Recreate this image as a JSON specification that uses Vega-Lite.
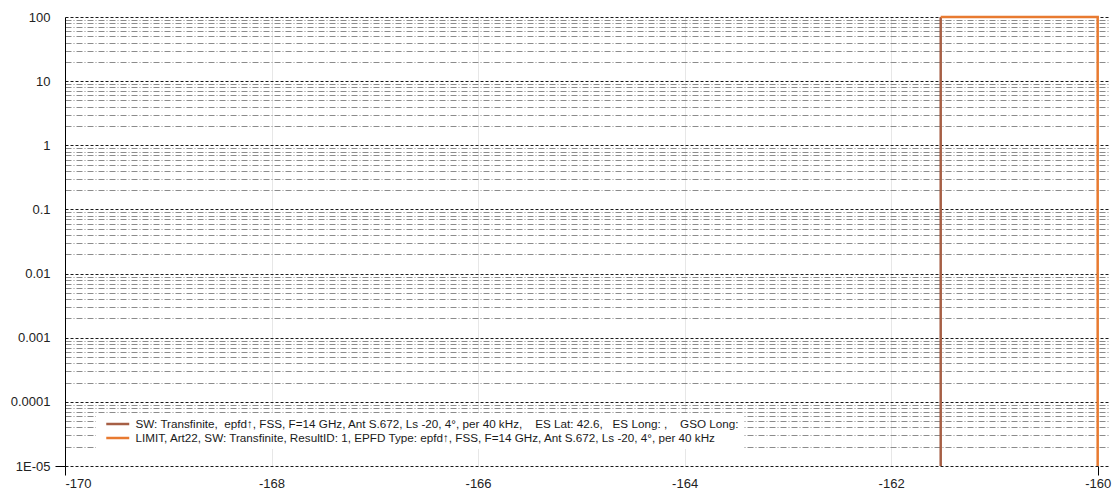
{
  "$schema": "https://vega.github.io/schema/vega-lite/v6.json",
  "autosize": "none",
  "width": 1043,
  "height": 449,
  "padding": {"left": 65, "top": 17, "right": 8, "bottom": 25},
  "background": "white",
  "config": {"view": {"stroke": null}},
  "data": {"values": [
    {"series": "SW", "epfd": -161.52, "pct": 0.00001, "ord": 0},
    {"series": "SW", "epfd": -161.52, "pct": 100, "ord": 1},
    {"series": "LIMIT", "epfd": -161.52, "pct": 100, "ord": 0},
    {"series": "LIMIT", "epfd": -160, "pct": 100, "ord": 1},
    {"series": "LIMIT", "epfd": -160, "pct": 0.00001, "ord": 2}
  ]},
  "mark": {"type": "line", "strokeWidth": 2.5, "clip": false},
  "encoding": {
    "x": {
      "field": "epfd", "type": "quantitative",
      "scale": {"domain": [-170, -159.9], "nice": false, "zero": false},
      "axis": {
        "title": null,
        "values": [-170, -168, -166, -164, -162, -160],
        "labelExpr": "'' + datum.value",
        "domain": false,
        "labelFont": "Liberation Sans", "labelFontSize": 13, "labelColor": "#222222",
        "labelPadding": 2,
        "tickSize": 9,
        "tickColor": {"condition": {"test": "datum.value == -170 || datum.value == -160", "value": "#000000"}, "value": "transparent"},
        "grid": true,
        "gridColor": "#cfcfcf",
        "gridDash": [1, 1],
        "gridOpacity": {"condition": {"test": "datum.value == -170 || datum.value == -160", "value": 0}, "value": 1}
      }
    },
    "y": {
      "field": "pct", "type": "quantitative",
      "scale": {"type": "log", "domain": [0.00001, 100], "nice": false},
      "axis": {
        "title": null,
        "values": [0.00001, 0.00002, 0.00003, 0.00004, 0.00005, 0.00006, 0.00007, 0.00008, 0.00009,
                   0.0001, 0.0002, 0.0003, 0.0004, 0.0005, 0.0006, 0.0007, 0.0008, 0.0009,
                   0.001, 0.002, 0.003, 0.004, 0.005, 0.006, 0.007, 0.008, 0.009,
                   0.01, 0.02, 0.03, 0.04, 0.05, 0.06, 0.07, 0.08, 0.09,
                   0.1, 0.2, 0.3, 0.4, 0.5, 0.6, 0.7, 0.8, 0.9,
                   1, 2, 3, 4, 5, 6, 7, 8, 9,
                   10, 20, 30, 40, 50, 60, 70, 80, 90, 100],
        "labelExpr": "datum.value == 100 ? '100' : datum.value == 10 ? '10' : datum.value == 1 ? '1' : datum.value == 0.1 ? '0.1' : datum.value == 0.01 ? '0.01' : datum.value == 0.001 ? '0.001' : datum.value == 0.0001 ? '0.0001' : datum.value == 0.00001 ? '1E-05' : ''",
        "labelFont": "Liberation Sans", "labelFontSize": 13, "labelColor": "#222222",
        "labelPadding": 5,
        "labelOverlap": false,
        "domain": true, "domainColor": "#000000", "domainWidth": 1,
        "tickSize": 10,
        "tickColor": {"condition": {"test": "datum.value == 0.00001", "value": "#000000"}, "value": "transparent"},
        "grid": true,
        "gridColor": {"condition": {"test": "indexof([100, 10, 1, 0.1, 0.01, 0.001, 0.0001, 0.00001], datum.value) >= 0", "value": "#1a1a1a"}, "value": "#8c8c8c"},
        "gridDash": {"condition": {"test": "indexof([100, 10, 1, 0.1, 0.01, 0.001, 0.0001, 0.00001], datum.value) >= 0", "value": [3, 2]}, "value": [6, 2, 1, 2]},
        "gridWidth": 1
      }
    },
    "color": {
      "field": "series", "type": "nominal",
      "scale": {
        "domain": ["SW", "LIMIT"],
        "range": ["#A65F45", "#E87A30"]
      },
      "legend": {
        "title": null,
        "orient": "none",
        "legendX": 31,
        "legendY": 396,
        "fillColor": "white",
        "padding": 4,
        "symbolType": "M-2,0H2",
        "symbolSize": 132,
        "symbolStrokeWidth": 2.5,
        "symbolOffset": 10.75,
        "rowPadding": 0,
        "labelOffset": 10.75,
        "labelLimit": 0,
        "labelFont": "Liberation Sans", "labelFontSize": 11.7, "labelColor": "#1a1a1a",
        "labelExpr": "datum.value == 'SW' ? 'SW: Transfinite,\u00a0 epfd\u2191, FSS, F=14 GHz, Ant S.672, Ls -20, 4°, per 40 kHz,\u00a0\u00a0\u00a0 ES Lat: 42.6,\u00a0\u00a0 ES Long: ,\u00a0\u00a0\u00a0 GSO Long:\u00a0\u00a0\u00a0\u00a0\u00a0\u00a0\u00a0\u00a0' : 'LIMIT, Art22, SW: Transfinite, ResultID: 1, EPFD Type: epfd\u2191, FSS, F=14 GHz, Ant S.672, Ls -20, 4°, per 40 kHz'"
      }
    },
    "order": {"field": "ord", "type": "quantitative"}
  }
}
